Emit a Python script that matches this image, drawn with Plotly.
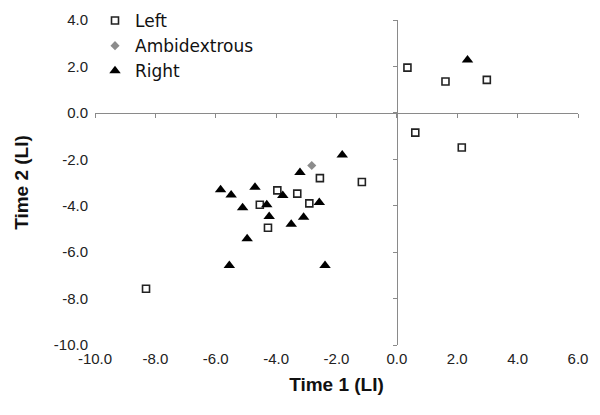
import plotly.graph_objects as go

left_x = [-2.55, -1.16, -3.96, -3.30, -4.54, -2.90, -4.27, -8.31, 0.35, 1.61, 2.98, 0.61, 2.15]
left_y = [-2.81, -2.98, -3.34, -3.48, -3.96, -3.90, -4.95, -7.58, 1.95, 1.35, 1.42, -0.85, -1.49]

ambi_x = [-2.82]
ambi_y = [-2.27]

right_x = [-1.81, -3.21, -5.84, -5.49, -4.70, -3.78, -5.11, -4.31, -4.23, -2.57, -3.09, -3.50, -4.96, -5.55, -2.38, 2.34]
right_y = [-1.81, -2.57, -3.31, -3.54, -3.20, -3.56, -4.09, -3.96, -4.46, -3.86, -4.50, -4.80, -5.42, -6.58, -6.57, 2.28]

x_ticks = [-10, -8, -6, -4, -2, 0, 2, 4, 6]
x_ticklabels = ["-10.0", "-8.0", "-6.0", "-4.0", "-2.0", "0.0", "2.0", "4.0", "6.0"]
y_ticks = [-10, -8, -6, -4, -2, 0, 2, 4]
y_ticklabels = ["-10.0", "-8.0", "-6.0", "-4.0", "-2.0", "0.0", "2.0", "4.0"]

FONT = "Arial, Liberation Sans, sans-serif"
AXC = "#8a8a8a"

W, H = 600, 415
M_L, M_R, M_T, M_B = 95, 22, 3, 70
PLOT_H = 325
paper_h = H - M_T - M_B
dom_top = PLOT_H / paper_h
x0_frac = (0 - (-10)) / (6 - (-10))
y0_frac = dom_top * (0 - (-10)) / (4 - (-10))

fig = go.Figure()
fig.add_trace(go.Scatter(x=left_x, y=left_y, mode="markers", name="Left",
                         marker=dict(symbol="square-open", size=7, color="#222222",
                                     line=dict(width=1.6, color="#222222"))))
fig.add_trace(go.Scatter(x=ambi_x, y=ambi_y, mode="markers", name="Ambidextrous",
                         marker=dict(symbol="diamond", size=7, color="#8c8c8c")))
fig.add_trace(go.Scatter(x=right_x, y=right_y, mode="markers", name="Right",
                         marker=dict(symbol="triangle-up", size=10, color="#000000")))
# empty trace so the crossing axes (x2/y2) are drawn
fig.add_trace(go.Scatter(x=[], y=[], xaxis="x2", yaxis="y2", showlegend=False,
                         hoverinfo="skip"))

fig.update_layout(
    width=W, height=H,
    margin=dict(l=M_L, r=M_R, t=M_T, b=M_B, autoexpand=False),
    paper_bgcolor="white", plot_bgcolor="white",
    font=dict(family=FONT, color="#222222"),
    showlegend=True,
    legend=dict(x=0.0, y=1.0, xanchor="left", yanchor="top",
                bgcolor="rgba(255,255,255,0)",
                font=dict(family="DejaVu Sans, sans-serif", size=17, color="#111111"),
                tracegroupgap=0, itemwidth=30),
    xaxis=dict(range=[-10, 6], tickvals=x_ticks, ticktext=x_ticklabels,
               showgrid=False, zeroline=False, showline=False, ticks="",
               ticklabelstandoff=3, automargin=False,
               tickfont=dict(size=15, color="#222222"),
               title=dict(text="<b>Time 1 (LI)</b>", font=dict(size=19, color="#111111"), standoff=11)),
    yaxis=dict(range=[-10, 4], domain=[0, dom_top], tickvals=y_ticks, ticktext=y_ticklabels,
               showgrid=False, zeroline=False, showline=False, ticks="",
               ticklabelstandoff=6, automargin=False,
               tickfont=dict(size=15, color="#222222"),
               title=dict(text="<b>Time 2 (LI)</b>", font=dict(size=19, color="#111111"), standoff=20)),
    xaxis2=dict(range=[-10, 6], overlaying="x", anchor="free", position=y0_frac, side="bottom",
                tickvals=x_ticks, showticklabels=False, showgrid=False, zeroline=False,
                showline=True, linecolor=AXC, linewidth=1, ticks="outside", ticklen=4,
                tickcolor=AXC, tickwidth=1, automargin=False),
    yaxis2=dict(range=[-10, 4], domain=[0, dom_top], overlaying="y", anchor="free",
                position=x0_frac, side="left",
                tickvals=y_ticks, showticklabels=False, showgrid=False, zeroline=False,
                showline=True, linecolor=AXC, linewidth=1, ticks="outside", ticklen=4,
                tickcolor=AXC, tickwidth=1, automargin=False),
)

fig.write_html("out.html", config={"displayModeBar": False},
               post_script="document.body.style.margin='0';document.body.style.overflow='hidden';")
